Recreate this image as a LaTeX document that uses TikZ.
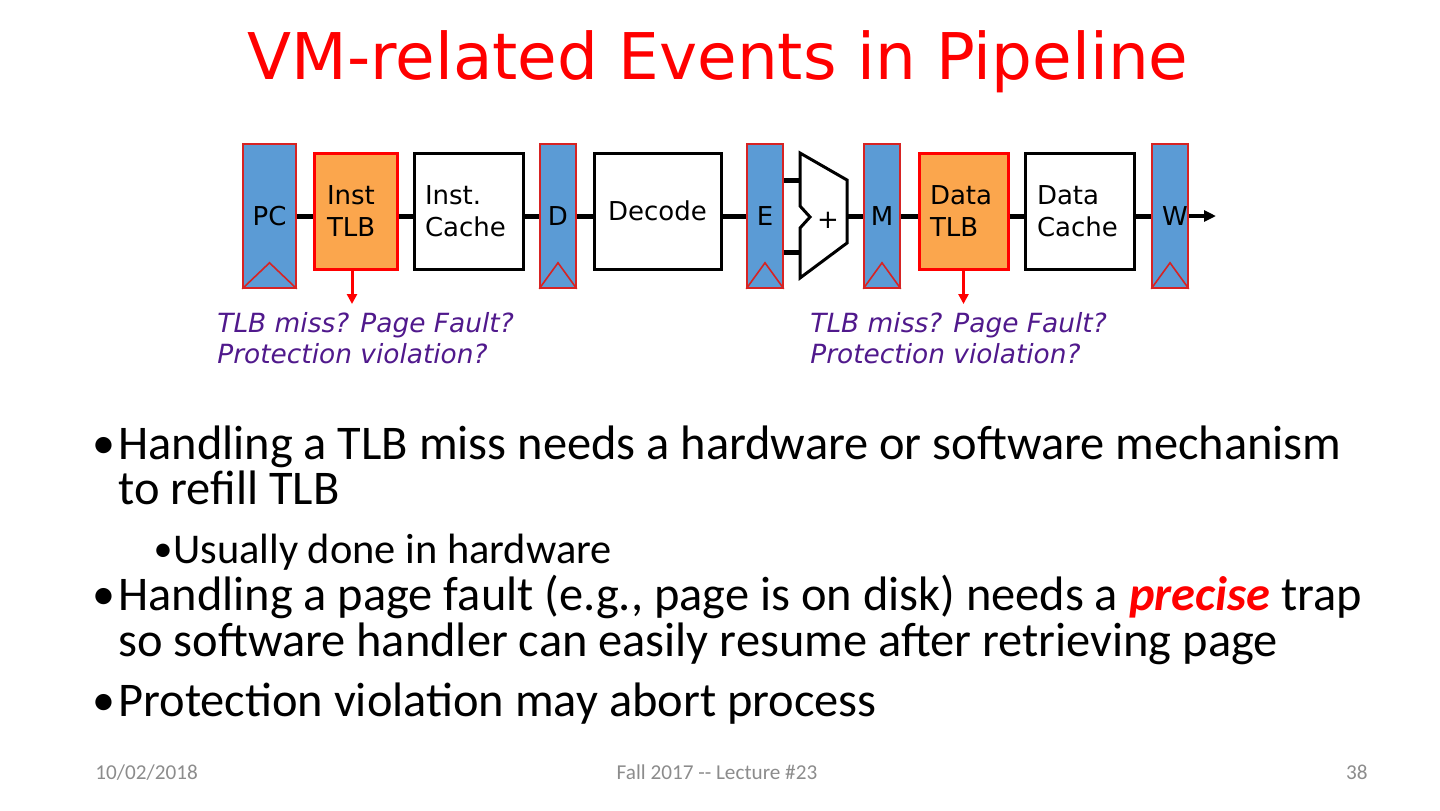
\documentclass[tikz,border=0pt]{standalone}
\usepackage{fontspec}
\setmainfont{Carlito}
\newfontfamily\dvs{DejaVu Sans}
\usetikzlibrary{arrows.meta,calc}
\definecolor{regblue}{RGB}{91,155,213}
\definecolor{tlborange}{RGB}{251,166,77}
\definecolor{regred}{RGB}{215,35,35}
\definecolor{notepurple}{RGB}{80,25,140}
\definecolor{footgray}{RGB}{140,140,140}
\begin{document}
\begin{tikzpicture}[x=0.5pt,y=-0.5pt,
  dfont/.style={font=\dvs\fontsize{13}{16}\selectfont},
  reg/.style={draw=regred, line width=0.8pt, fill=regblue, minimum width=18pt, minimum height=72pt, inner sep=0pt, dfont},
  regtri/.style={draw=regred, line width=0.8pt},
  tlb/.style={draw=red, line width=1.5pt, fill=tlborange, minimum height=58pt, align=left, inner ysep=0pt, dfont},
  cbox/.style={draw=black, line width=1.5pt, fill=white, minimum height=58pt, align=left, inner ysep=0pt, dfont},
  wire/.style={line width=2.5pt},
  note/.style={anchor=west, align=left, inner sep=0pt, text=notepurple, font=\dvs\itshape\fontsize{13.2}{15.5}\selectfont},
  trap/.style={draw=red, line width=1.5pt, -{Triangle[length=5pt,width=5pt]}},
  btext/.style={anchor=base west, inner sep=0pt, font=\fontsize{24.2}{24.2}\selectfont},
  bdot/.style={anchor=base, inner sep=0pt, font=\fontsize{23}{23}\selectfont},
  stext/.style={anchor=base west, inner sep=0pt, font=\fontsize{21.2}{21.2}\selectfont},
  sdot/.style={anchor=base, inner sep=0pt, font=\fontsize{19}{19}\selectfont},
  foot/.style={anchor=base, inner sep=0pt, text=footgray, font=\fontsize{10.6}{10.6}\selectfont}
]
\useasboundingbox (0,0) rectangle (1440,810);

% title
\node[anchor=base, text=red, font=\dvs\fontsize{32.2}{32.2}\selectfont] (title) at (718,79) {VM-related Events in Pipeline};

% wire level
\coordinate (wy) at (0,216);

% registers
\node[reg, minimum width=26.5pt] (pc) at (269.5,216) {PC};
\node[reg] (dreg) at (558,216) {D};
\node[reg] (ereg) at (765,216) {E};
\node[reg] (mreg) at (882,216) {M};
\node[reg] (wreg) at (1170,216) {\hspace*{5pt}W};
\foreach \r in {pc,dreg,ereg,mreg,wreg}{
  \draw[regtri] (\r.south west) -- ([yshift=13pt]\r.south) -- (\r.south east);
}

% boxes
\node[tlb, text width=28.5pt, inner xsep=6.5pt] (itlb) at (355.5,211) {Inst\\TLB};
\node[cbox, text width=43.5pt, inner xsep=5.5pt] (icache) at (468.5,211) {Inst.\\Cache};
\node[cbox, minimum width=63.5pt, align=center] (decode) at (657.5,211) {Decode};
\node[tlb, text width=33.5pt, inner xsep=5.5pt] (dtlb) at (963.5,211) {Data\\TLB};
\node[cbox, text width=42.5pt, inner xsep=6pt] (dcache) at (1079.5,211) {Data\\Cache};

% ALU
\coordinate (alutl) at (800,153);
\coordinate (alutr) at (847,180);
\coordinate (alubr) at (847,243);
\coordinate (alubl) at (800,278);
\coordinate (alun1) at (800,206);
\coordinate (alun2) at (810,217);
\coordinate (alun3) at (800,228);
\coordinate (aluin1) at (800,180);
\coordinate (aluin2) at (800,252);
\coordinate (aluout) at (847,216);
\draw[line width=1.5pt, fill=white, line join=miter] (alutl) -- (alutr) -- (alubr) -- (alubl) -- (alun3) -- (alun2) -- (alun1) -- cycle;
\node[dfont] (plus) at (828,220) {+};

% wires
\draw[wire] (pc.east |- wy) -- (itlb.west |- wy);
\draw[wire] (itlb.east |- wy) -- (icache.west |- wy);
\draw[wire] (icache.east |- wy) -- (dreg.west |- wy);
\draw[wire] (dreg.east |- wy) -- (decode.west |- wy);
\draw[wire] (decode.east |- wy) -- (ereg.west |- wy);
\draw[wire] (ereg.east |- aluin1) -- (aluin1);
\draw[wire] (ereg.east |- aluin2) -- (aluin2);
\draw[wire] (aluout) -- (mreg.west |- wy);
\draw[wire] (mreg.east |- wy) -- (dtlb.west |- wy);
\draw[wire] (dtlb.east |- wy) -- (dcache.west |- wy);
\draw[wire] (dcache.east |- wy) -- (wreg.west |- wy);
\coordinate (wout) at (1216,216);
\draw[line width=2pt, -{Triangle[length=6pt,width=5.5pt]}] (wreg.east |- wy) -- (wout);

% trap arrows
\coordinate (itrap) at (352,304);
\coordinate (dtrap) at (963.5,304);
\draw[trap] (itlb.south -| itrap) -- (itrap);
\draw[trap] (dtlb.south) -- (dtrap);

% notes
\node[note] (inote) at (217,338) {TLB miss? Page Fault?\\Protection violation?};
\node[note] (dnote) at (810,338) {TLB miss? Page Fault?\\Protection violation?};

% bullets
\node[bdot] (b1d) at (104,458) {•};
\node[btext] (b1a) at (118,459) {Handling a TLB miss needs a hardware or software mechanism};
\node[btext] (b1b) at (118,504) {to refill TLB};
\node[sdot] (s1d) at (163,561) {•};
\node[stext] (s1a) at (173,563) {Usually done in hardware};
\node[bdot] (b2d) at (104,609) {•};
\node[btext] (b2a) at (118,610) {Handling a page fault (e.g., page is on disk) needs a \textcolor{red}{\textbf{\textit{precise}}} trap};
\node[btext] (b2b) at (118,656) {so software handler can easily resume after retrieving page};
\node[bdot] (b3d) at (104,715) {•};
\node[btext] (b3a) at (118,716) {Protection violation may abort process};

% footer
\node[foot, anchor=base west] (fdate) at (95,779) {10/02/2018};
\node[foot] (fmid) at (717,779) {Fall 2017 -{}- Lecture \#23};
\node[foot, anchor=base east] (fnum) at (1368,779) {38};
\end{tikzpicture}
\end{document}
